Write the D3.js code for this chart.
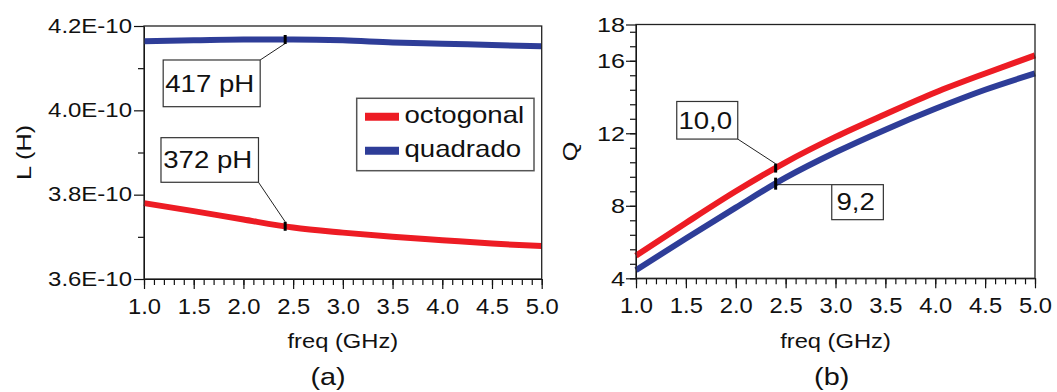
<!DOCTYPE html>
<meta charset="utf-8">
<script src="https://cdn.jsdelivr.net/npm/d3@7"></script>
<style>
body{margin:0;background:#fff;}
text{font-family:"Liberation Sans",Arial,sans-serif;fill:#111;}
</style>
<div id="vis"></div>
<script>

// frequency points (GHz)
var freq = [1.0, 1.5, 2.0, 2.5, 3.0, 3.5, 4.0, 4.5, 5.0];

// (a) inductance, H
var L_octogonal = [3.780e-10, 3.761e-10, 3.741e-10, 3.722e-10, 3.710e-10, 3.700e-10, 3.692e-10, 3.684e-10, 3.678e-10];
var L_quadrado  = [4.164e-10, 4.166e-10, 4.168e-10, 4.168e-10, 4.166e-10, 4.161e-10, 4.158e-10, 4.155e-10, 4.152e-10];

// (b) quality factor
var Q_octogonal = [5.25, 7.05, 8.8, 10.4, 11.8, 13.05, 14.25, 15.3, 16.3];
var Q_quadrado  = [4.45, 6.2, 7.9, 9.55, 10.95, 12.2, 13.35, 14.4, 15.3];

var seriesNames  = ["octogonal", "quadrado"];
var seriesColors = ["#ed1c24", "#2e3d98"];

// ticks
var freqTicks = [1.0, 1.5, 2.0, 2.5, 3.0, 3.5, 4.0, 4.5, 5.0];
var L_ticks = [3.6e-10, 3.8e-10, 4.0e-10, 4.2e-10];
var L_tickLabels = ["3.6E-10", "3.8E-10", "4.0E-10", "4.2E-10"];
var L_minor = [3.7e-10, 3.9e-10, 4.1e-10];
var Q_ticks = [4, 8, 12, 16, 18];

// marked points: series index, frequency, label
var L_notes = [
  {s: 1, f: 2.42, label: "417 pH"},
  {s: 0, f: 2.42, label: "372 pH"}
];
var Q_notes = [
  {s: 0, f: 2.4, label: "10,0"},
  {s: 1, f: 2.4, label: "9,2"}
];

var svg = d3.select("#vis").append("svg")
    .attr("width", 1057)
    .attr("height", 392);

// glyphs in the original are drawn a bit wide
function stretch(sel, s) {
  sel.each(function() {
    var t = d3.select(this);
    var x = +t.attr("x") || 0;
    t.attr("x", x / s).attr("transform", "scale(" + s + ",1)");
  });
}

function addText(g, str, x, y, size, s, anchor, rot) {
  return g.append("text")
    .attr("transform", "translate(" + x + "," + y + ")" + (rot ? " rotate(" + rot + ")" : "") + " scale(" + s + ",1)")
    .attr("text-anchor", anchor || "middle")
    .style("font-size", size + "px")
    .text(str);
}

function interp(arr, f) {
  return d3.scaleLinear().domain(freq).range(arr)(f);
}

function drawPanel(p) {
  var g = svg.append("g");
  var x = d3.scaleLinear().domain([1, 5]).range([p.left, p.right]);
  var y = d3.scaleLinear().domain(p.yDomain).range([p.bottom, p.top]);

  // x axis: minor then major
  g.append("g")
      .attr("transform", "translate(0," + p.bottom + ")")
      .call(d3.axisBottom(x).tickValues(d3.range(1, 5.001, 0.1)).tickSize(6).tickSizeOuter(0).tickFormat(""))
      .call(function(a) { a.select(".domain").remove(); });
  var xa = g.append("g")
      .attr("transform", "translate(0," + p.bottom + ")")
      .call(d3.axisBottom(x).tickValues(freqTicks).tickSize(10).tickSizeOuter(0).tickPadding(9).tickFormat(d3.format(".1f")));
  xa.selectAll("text").style("font-size", "22px").call(stretch, 1.08);

  // y axis
  g.append("g")
      .attr("transform", "translate(" + p.left + ",0)")
      .call(d3.axisLeft(y).tickValues(p.yMinor).tickSize(6).tickSizeOuter(0).tickFormat(""))
      .call(function(a) { a.select(".domain").remove(); });
  var ya = g.append("g")
      .attr("transform", "translate(" + p.left + ",0)")
      .call(d3.axisLeft(y).tickValues(p.yTicks).tickSize(10).tickSizeOuter(0).tickPadding(p.yPad)
        .tickFormat(function(d, i) { return p.yLabels[i]; }));
  ya.selectAll("text").style("font-size", p.yFont + "px").call(stretch, p.yScale);

  g.selectAll(".tick line").attr("stroke", "#111").attr("stroke-width", 1.2);

  // curves
  var line = d3.line()
      .x(function(d, i) { return x(freq[i]); })
      .y(function(d) { return y(d); })
      .curve(d3.curveMonotoneX);
  g.selectAll(".curve")
    .data(p.series)
    .enter().append("path")
      .attr("class", "curve")
      .attr("d", line)
      .attr("fill", "none")
      .attr("stroke", function(d, i) { return seriesColors[i]; })
      .attr("stroke-width", 6);

  // frame
  g.append("rect")
      .attr("x", p.left).attr("y", p.top)
      .attr("width", p.right - p.left).attr("height", p.bottom - p.top)
      .attr("fill", "none").attr("stroke", "#222").attr("stroke-width", 1.3);

  // marked points with label boxes
  p.notes.forEach(function(n, i) {
    var lay = p.noteLayout[i];
    var mx = x(n.f), my = y(interp(p.series[n.s], n.f));
    var bx = mx + lay.dx, by = my + lay.dy;
    var corner = [bx + (lay.cx ? lay.w : 0), by + (lay.cy ? lay.h : 0)];
    g.append("line")
        .attr("x1", mx).attr("y1", my + lay.my)
        .attr("x2", corner[0]).attr("y2", corner[1])
        .attr("stroke", "#222").attr("stroke-width", 1);
    g.append("rect")
        .attr("x", mx - 1.5).attr("y", my - lay.mh / 2)
        .attr("width", 3).attr("height", lay.mh)
        .attr("fill", "#000");
    g.append("rect")
        .attr("x", bx).attr("y", by)
        .attr("width", lay.w).attr("height", lay.h)
        .attr("fill", "#fff").attr("stroke", "#333").attr("stroke-width", 1.2);
    addText(g, n.label, bx + lay.w / 2 - 2, by + lay.h / 2 + 8.3, 23, 1.2);
  });

  addText(g, "freq (GHz)", (p.left + p.right) / 2, 348, 21, 1.13);
  addText(g, p.yTitle, p.yTitleX, (p.top + p.bottom) / 2, 21, 1.2, "middle", -90);
  addText(g, p.tag, p.tagX, 385, 24, 1.2);
  return g;
}

// (a) inductance
var ga = drawPanel({
  left: 144, right: 541.7, top: 26, bottom: 279,
  yDomain: [3.6e-10, 4.2e-10],
  yTicks: L_ticks, yLabels: L_tickLabels, yMinor: L_minor,
  yFont: 19.5, yScale: 1.23, yPad: 2,
  series: [L_octogonal, L_quadrado],
  notes: L_notes,
  noteLayout: [
    {dx: -122, dy: 20.5, w: 97, h: 46.7, cx: 1, cy: 0, my: 4, mh: 9},
    {dx: -124.2, dy: -88.6, w: 97.5, h: 44.6, cx: 1, cy: 1, my: -4.5, mh: 9}
  ],
  yTitle: "L (H)", yTitleX: 30.5,
  tag: "(a)", tagX: 328
});

// legend
var leg = ga.append("g");
leg.append("rect")
    .attr("x", 356.7).attr("y", 98.3).attr("width", 177.3).attr("height", 72.4)
    .attr("fill", "#fff").attr("stroke", "#555").attr("stroke-width", 1.5);
seriesNames.forEach(function(name, i) {
  var yy = 116.7 + i * 34;
  leg.append("line")
      .attr("x1", 365).attr("x2", 399).attr("y1", yy).attr("y2", yy)
      .attr("stroke", seriesColors[i]).attr("stroke-width", 8);
  addText(leg, name, 404.5, yy + 6, 23, 1.2, "start");
});

// (b) quality factor
drawPanel({
  left: 636, right: 1035, top: 24.5, bottom: 278.3,
  yDomain: [4, 18],
  yTicks: Q_ticks, yLabels: Q_ticks.map(String), yMinor: d3.range(4, 18, 0.8),
  yFont: 21, yScale: 1.2, yPad: 1,
  series: [Q_octogonal, Q_quadrado],
  notes: Q_notes,
  noteLayout: [
    {dx: -98.9, dy: -66.6, w: 61, h: 37.6, cx: 1, cy: 1, my: -4.3, mh: 9},
    {dx: 56.1, dy: 1, w: 51.6, h: 35, cx: 0, cy: 0, my: 1, mh: 12}
  ],
  yTitle: "Q", yTitleX: 577,
  tag: "(b)", tagX: 831.7
});

</script>
